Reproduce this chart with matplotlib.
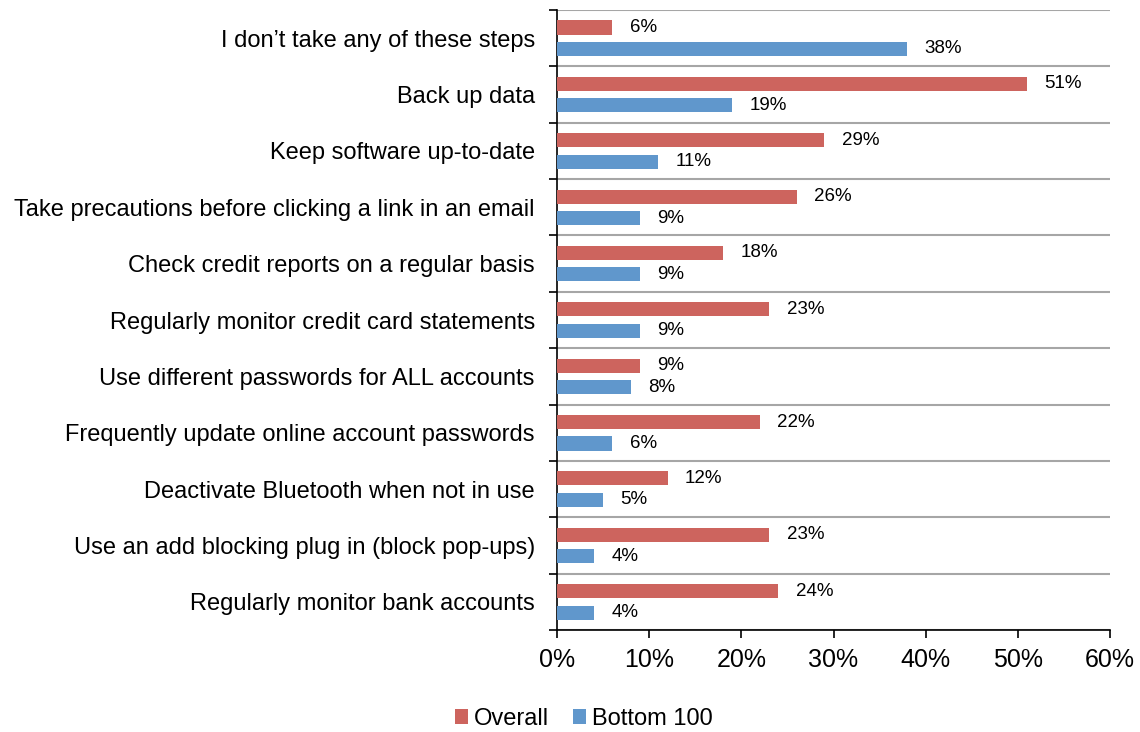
import numpy as np
import matplotlib.pyplot as plt
from matplotlib.ticker import FixedLocator, PercentFormatter

plt.rcParams['font.family'] = ['Liberation Sans', 'DejaVu Sans']

categories = [
    "I don\u2019t take any of these steps",
    "Back up data",
    "Keep software up-to-date",
    "Take precautions before clicking a link in an email",
    "Check credit reports on a regular basis",
    "Regularly monitor credit card statements",
    "Use different passwords for ALL accounts",
    "Frequently update online account passwords",
    "Deactivate Bluetooth when not in use",
    "Use an add blocking plug in (block pop-ups)",
    "Regularly monitor bank accounts",
]
overall = [6, 51, 29, 26, 18, 23, 9, 22, 12, 23, 24]
bottom100 = [38, 19, 11, 9, 9, 9, 8, 6, 5, 4, 4]

red = '#CD645E'
blue = '#6097CC'

fig = plt.figure(figsize=(11.4, 7.32), dpi=100)
ax = fig.add_axes([0.4886, 0.1393, 0.4851, 0.847])

n = len(categories)
y = np.arange(n)
h = 0.25
off = 0.19

ax.barh(y - off, overall, height=h, color=red, label='Overall', zorder=3)
ax.barh(y + off, bottom100, height=h, color=blue, label='Bottom 100', zorder=3)

# value labels just past the end of each bar
for yi, v in zip(y, overall):
    ax.text(v + 1.9, yi - off, f'{v}%', va='center', ha='left', fontsize=13.5)
for yi, v in zip(y, bottom100):
    ax.text(v + 1.9, yi + off, f'{v}%', va='center', ha='left', fontsize=13.5)

ax.set_xlim(0, 60)
ax.set_ylim(n - 0.5, -0.5)
ax.xaxis.set_major_formatter(PercentFormatter(decimals=0))
ax.set_xticks(range(0, 61, 10))
ax.tick_params(axis='x', labelsize=18, length=6, width=1.2, pad=7)

# labels at category centres, tick marks and grid at the boundaries
ax.set_yticks(y)
ax.set_yticklabels(categories, fontsize=17)
ax.yaxis.set_minor_locator(FixedLocator(np.arange(-0.5, n, 1)))
ax.tick_params(axis='y', which='major', length=0, pad=16)
ax.tick_params(axis='y', which='minor', length=6, width=1.2)
ax.grid(True, axis='y', which='minor', color='#A6A6A6', linewidth=1.5, zorder=1)

for s in ['top', 'right']:
    ax.spines[s].set_visible(False)
ax.spines['left'].set_linewidth(1.2)
ax.spines['bottom'].set_linewidth(1.2)

fig.legend(loc='center', bbox_to_anchor=(0.512, 0.018), ncol=2, frameon=False,
           fontsize=17, handlelength=0.55, handleheight=0.55, handletextpad=0.25,
           columnspacing=1.0)

plt.savefig('out.png')
